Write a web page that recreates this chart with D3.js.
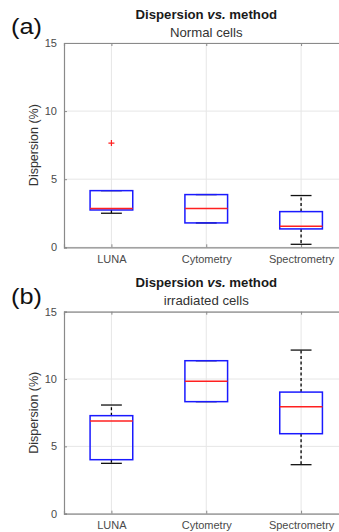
<!DOCTYPE html>
<html>
<head>
<meta charset="utf-8">
<script src="https://cdn.jsdelivr.net/npm/d3@7"></script>
<style>
  body { margin: 0; background: #fff; }
  text { font-family: "Liberation Sans", Arial, sans-serif; }
</style>
</head>
<body>
<svg id="chart" width="339" height="532"></svg>
<script>
// categories and tick values
const categories = ['LUNA', 'Cytometry', 'Spectrometry'];
const yTicks = [0, 5, 10, 15];

// (a) normal cells
const normalLow = [2.5, 1.79, 0.22];
const normalQ1 = [2.74, 1.79, 1.35];
const normalMedian = [2.84, 2.84, 1.54];
const normalQ3 = [4.16, 3.87, 2.62];
const normalHigh = [4.16, 3.87, 3.8];
const normalOutliers = [[7.65], [], []];

// (b) irradiated cells
const irrLow = [3.74, 8.32, 3.64];
const irrQ1 = [4.01, 8.32, 5.94];
const irrMedian = [6.88, 9.83, 7.94];
const irrQ3 = [7.28, 11.36, 9.03];
const irrHigh = [8.07, 11.36, 12.15];
const irrOutliers = [[], [], []];

const svg = d3.select('#chart');

const panels = [
  { tag: '(a)', sub: 'Normal cells', top: 43, bottom: 247.3, tagY: 34, titleY: 19, subY: 37,
    low: normalLow, q1: normalQ1, med: normalMedian, q3: normalQ3, high: normalHigh, out: normalOutliers },
  { tag: '(b)', sub: 'irradiated cells', top: 311.7, bottom: 513.7, tagY: 304, titleY: 287, subY: 305,
    low: irrLow, q1: irrQ1, med: irrMedian, q3: irrQ3, high: irrHigh, out: irrOutliers }
];

const x = d3.scaleLinear().domain([0.5, 3.5]).range([64, 348.5]);
const boxW = 0.45, capW = 0.22;
const axisColor = '#8a8a8a';

// text that is a little wider than tall, like the source image
function wideText(g, cx, cy, sx) {
  return g.append('text').attr('transform', `translate(${cx},${cy}) scale(${sx},1)`);
}

panels.forEach(p => {
  const y = d3.scaleLinear().domain([0, 15]).range([p.bottom, p.top]);
  const g = svg.append('g');

  // grid
  g.selectAll('.hgrid').data(yTicks).enter().append('line')
    .attr('x1', x(0.5)).attr('x2', x(3.5))
    .attr('y1', d => y(d)).attr('y2', d => y(d))
    .attr('stroke', '#e6e6e6').attr('stroke-width', 1);
  g.selectAll('.vgrid').data(categories).enter().append('line')
    .attr('x1', (d, i) => x(i + 1)).attr('x2', (d, i) => x(i + 1))
    .attr('y1', y(0)).attr('y2', y(15))
    .attr('stroke', '#e6e6e6').attr('stroke-width', 1);

  // axes
  const yAxis = d3.axisLeft(y).tickValues(yTicks).tickSize(-3).tickPadding(7);
  const ya = g.append('g').attr('transform', `translate(${x(0.5)},0)`).call(yAxis);
  const xAxis = d3.axisBottom(x).tickValues([1, 2, 3]).tickFormat((d, i) => categories[i])
    .tickSize(-3).tickPadding(8);
  const xa = g.append('g').attr('transform', `translate(0,${y(0)})`).call(xAxis);
  const topAxis = d3.axisTop(x).tickValues([1, 2, 3]).tickFormat('').tickSize(-3);
  const ta = g.append('g').attr('transform', `translate(0,${y(15)})`).call(topAxis);
  [ya, xa, ta].forEach(a => {
    a.select('.domain').attr('stroke', axisColor).attr('stroke-width', 1.2);
    a.selectAll('.tick line').attr('stroke', axisColor);
    a.selectAll('.tick text').attr('fill', '#4a4a4a').attr('font-size', 11)
      .attr('font-family', '"Liberation Sans", Arial, sans-serif');
  });

  // y label
  g.append('text')
    .attr('transform', `translate(38,${(y(0) + y(15)) / 2}) rotate(-90)`)
    .attr('text-anchor', 'middle').attr('font-size', 12.5).attr('fill', '#333')
    .text('Dispersion (%)');

  // titles
  const t = wideText(g, x(2), p.titleY, 1.1)
    .attr('text-anchor', 'middle').attr('font-size', 12).attr('font-weight', 'bold').attr('fill', '#1a1a1a');
  t.append('tspan').text('Dispersion ');
  t.append('tspan').attr('font-style', 'italic').text('vs.');
  t.append('tspan').text(' method');
  wideText(g, x(2), p.subY, 1.1)
    .attr('text-anchor', 'middle').attr('font-size', 12).attr('fill', '#333').text(p.sub);

  // panel tag
  wideText(g, 11, p.tagY, 1.15)
    .attr('font-family', '"Open Sans", sans-serif').attr('font-size', 22).attr('fill', '#111')
    .text(p.tag);

  // boxes
  categories.forEach((c, i) => {
    const cx = x(i + 1);
    const bw = x(i + 1 + boxW / 2) - cx;
    const cw = x(i + 1 + capW / 2) - cx;
    // whiskers
    g.append('line').attr('x1', cx).attr('x2', cx).attr('y1', y(p.q3[i])).attr('y2', y(p.high[i]))
      .attr('stroke', '#000').attr('stroke-width', 1.3).attr('stroke-dasharray', '3,2.5');
    g.append('line').attr('x1', cx).attr('x2', cx).attr('y1', y(p.q1[i])).attr('y2', y(p.low[i]))
      .attr('stroke', '#000').attr('stroke-width', 1.3).attr('stroke-dasharray', '3,2.5');
    [p.high[i], p.low[i]].forEach(v => {
      g.append('line').attr('x1', cx - cw).attr('x2', cx + cw).attr('y1', y(v)).attr('y2', y(v))
        .attr('stroke', '#111').attr('stroke-width', 1.3);
    });
    // box
    g.append('rect').attr('x', cx - bw).attr('width', 2 * bw)
      .attr('y', y(p.q3[i])).attr('height', y(p.q1[i]) - y(p.q3[i]))
      .attr('fill', 'none').attr('stroke', '#1a1aff').attr('stroke-width', 1.5);
    // median
    g.append('line').attr('x1', cx - bw).attr('x2', cx + bw)
      .attr('y1', y(p.med[i])).attr('y2', y(p.med[i]))
      .attr('stroke', '#ff2020').attr('stroke-width', 1.5);
    // outliers as '+' markers
    p.out[i].forEach(v => {
      const oy = y(v);
      g.append('path').attr('d', `M${cx - 3},${oy}H${cx + 3}M${cx},${oy - 3}V${oy + 3}`)
        .attr('stroke', '#ff2020').attr('stroke-width', 1.2).attr('fill', 'none');
    });
  });
});
</script>
</body>
</html>
